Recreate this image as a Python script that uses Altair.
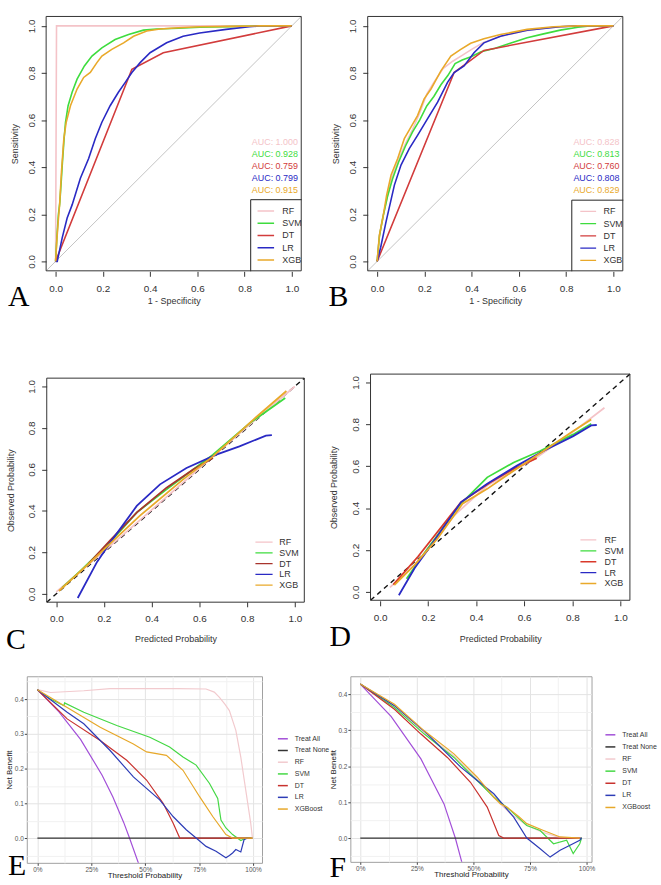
import altair as alt
import pandas as pd

SANS = "Liberation Sans"
SERIF = "Liberation Serif"

MODELS = ["RF", "SVM", "DT", "LR", "XGB"]
DCA_SERIES = ["Treat All", "Treat None", "RF", "SVM", "DT", "LR", "XGBoost"]

ROC_COLORS = ["#f4c3c8", "#3edc3e", "#d23c3c", "#2a2ac4", "#e9a92a"]
CAL_COLORS_C = ["#f4c3c8", "#3edc3e", "#a8342c", "#2a2ac4", "#e9a92a"]
CAL_COLORS_D = ["#f4c3c8", "#3edc3e", "#d9392a", "#2a2ac4", "#e9a92a"]
DCA_COLORS = ["#a24fd8", "#333333", "#f2cace", "#45d845", "#c8322e", "#2d3cb6", "#e7a82a"]

AUC_TRAIN = [1.000, 0.928, 0.759, 0.799, 0.915]
AUC_TEST = [0.828, 0.813, 0.760, 0.808, 0.829]

# ROC curves, training set (1 - specificity, sensitivity)
A_RF_X = [0.0, 0.004, 1.0]
A_RF_Y = [0.0, 1.0, 1.0]
A_SVM_X = [0.0, 0.006, 0.012, 0.018, 0.024, 0.029, 0.036, 0.042, 0.053, 0.070, 0.091, 0.122,
           0.154, 0.196, 0.252, 0.309, 0.372, 0.428, 0.520, 0.610, 0.740, 0.863, 1.0]
A_SVM_Y = [0.0, 0.11, 0.20, 0.25, 0.34, 0.42, 0.52, 0.59, 0.661, 0.718, 0.774, 0.830,
           0.872, 0.907, 0.942, 0.963, 0.982, 0.987, 0.990, 0.994, 0.997, 1.0, 1.0]
A_DT_X = [0.0, 0.323, 0.456, 1.0]
A_DT_Y = [0.0, 0.816, 0.886, 1.0]
A_LR_X = [0.0, 0.007, 0.028, 0.049, 0.070, 0.105, 0.140, 0.168, 0.196, 0.231, 0.266,
          0.295, 0.323, 0.358, 0.400, 0.470, 0.540, 0.610, 0.722, 0.820, 0.863, 1.0]
A_LR_Y = [0.0, 0.0, 0.10, 0.184, 0.24, 0.353, 0.437, 0.521, 0.591, 0.661, 0.718,
          0.760, 0.802, 0.844, 0.886, 0.928, 0.956, 0.970, 0.985, 0.996, 1.0, 1.0]
A_XGB_X = [0.0, 0.006, 0.012, 0.017, 0.025, 0.035, 0.045, 0.063, 0.091, 0.119, 0.147, 0.175,
           0.196, 0.238, 0.288, 0.330, 0.386, 0.442, 0.520, 0.610, 0.740, 0.863, 1.0]
A_XGB_Y = [0.0, 0.10, 0.18, 0.24, 0.381, 0.521, 0.591, 0.661, 0.732, 0.781, 0.802, 0.844,
           0.872, 0.900, 0.928, 0.956, 0.978, 0.987, 0.992, 0.996, 0.998, 1.0, 1.0]

# ROC curves, validation set
B_RF_X = [0.0, 0.008, 0.02, 0.04, 0.06, 0.09, 0.12, 0.15, 0.18, 0.21, 0.24, 0.28, 0.32,
          0.36, 0.40, 0.45, 0.52, 0.63, 0.75, 0.85, 1.0]
B_RF_Y = [0.0, 0.10, 0.17, 0.26, 0.35, 0.43, 0.50, 0.56, 0.63, 0.71, 0.76, 0.82, 0.85,
          0.875, 0.90, 0.93, 0.955, 0.98, 0.995, 1.0, 1.0]
B_SVM_X = [0.0, 0.01, 0.025, 0.045, 0.065, 0.09, 0.12, 0.15, 0.18, 0.21, 0.24, 0.27, 0.30,
           0.33, 0.36, 0.40, 0.44, 0.50, 0.56, 0.635, 0.70, 0.775, 0.85, 0.90, 1.0]
B_SVM_Y = [0.0, 0.11, 0.19, 0.28, 0.35, 0.42, 0.49, 0.55, 0.60, 0.66, 0.70, 0.75, 0.79,
           0.84, 0.855, 0.87, 0.89, 0.905, 0.925, 0.95, 0.965, 0.982, 0.994, 1.0, 1.0]
B_DT_X = [0.0, 0.326, 0.452, 1.0]
B_DT_Y = [0.0, 0.802, 0.896, 1.0]
B_LR_X = [0.0, 0.015, 0.038, 0.073, 0.101, 0.136, 0.171, 0.213, 0.256, 0.298, 0.326,
          0.368, 0.410, 0.452, 0.522, 0.635, 0.775, 0.85, 1.0]
B_LR_Y = [0.0, 0.06, 0.17, 0.324, 0.409, 0.479, 0.535, 0.605, 0.676, 0.760, 0.802,
          0.830, 0.886, 0.928, 0.956, 0.982, 0.996, 1.0, 1.0]
B_XGB_X = [0.0, 0.010, 0.024, 0.040, 0.059, 0.087, 0.115, 0.143, 0.171, 0.199, 0.228,
           0.270, 0.312, 0.354, 0.396, 0.452, 0.522, 0.635, 0.747, 0.850, 1.0]
B_XGB_Y = [0.0, 0.114, 0.184, 0.28, 0.367, 0.437, 0.521, 0.570, 0.619, 0.690, 0.732,
           0.809, 0.872, 0.900, 0.926, 0.945, 0.963, 0.985, 0.996, 1.0, 1.0]

# Calibration curves, training set (predicted, observed)
C_RF_X = [0.0, 0.2, 0.4, 0.6, 0.8, 1.0]
C_RF_Y = [0.01, 0.205, 0.405, 0.605, 0.805, 1.0]
C_SVM_X = [0.025, 0.10, 0.226, 0.338, 0.4625, 0.574, 0.657, 0.81, 0.96]
C_SVM_Y = [0.03, 0.11, 0.25, 0.393, 0.504, 0.60, 0.671, 0.822, 0.944]
C_DT_X = [0.136, 0.226, 0.338, 0.4625, 0.574, 0.657]
C_DT_Y = [0.146, 0.258, 0.393, 0.512, 0.60, 0.655]
C_LR_X = [0.09, 0.171, 0.233, 0.3375, 0.435, 0.546, 0.671, 0.768, 0.879, 0.904]
C_LR_Y = [-0.02, 0.154, 0.258, 0.424, 0.528, 0.607, 0.671, 0.711, 0.763, 0.765]
C_XGB_X = [0.011, 0.129, 0.226, 0.351, 0.532, 0.657, 0.824, 0.965]
C_XGB_Y = [0.014, 0.138, 0.242, 0.377, 0.552, 0.663, 0.838, 0.978]

# Calibration curves, validation set
D_RF_X = [0.041, 0.144, 0.309, 0.446, 0.652, 0.817, 0.934]
D_RF_Y = [0.022, 0.129, 0.366, 0.508, 0.642, 0.776, 0.879]
D_SVM_X = [0.11, 0.199, 0.33, 0.446, 0.556, 0.666, 0.804, 0.879]
D_SVM_Y = [0.063, 0.208, 0.413, 0.547, 0.618, 0.673, 0.752, 0.803]
D_DT_X = [0.055, 0.158, 0.337, 0.46, 0.556, 0.652]
D_DT_Y = [0.035, 0.169, 0.429, 0.524, 0.587, 0.639]
D_LR_X = [0.078, 0.144, 0.213, 0.337, 0.446, 0.57, 0.68, 0.804, 0.879, 0.902]
D_LR_Y = [-0.016, 0.114, 0.224, 0.429, 0.516, 0.603, 0.673, 0.744, 0.795, 0.797]
D_XGB_X = [0.059, 0.144, 0.24, 0.343, 0.446, 0.556, 0.68, 0.804, 0.879]
D_XGB_Y = [0.032, 0.129, 0.256, 0.421, 0.492, 0.579, 0.673, 0.768, 0.823]

# Decision curves, training set (threshold, net benefit)
E_ALL_X = [0.0, 0.1, 0.2, 0.3, 0.35, 0.4, 0.427, 0.47]
E_ALL_Y = [0.427, 0.363, 0.284, 0.181, 0.118, 0.045, 0.0, -0.075]
E_NONE_X = [0.0, 0.99]
E_NONE_Y = [0.0, 0.0]
E_RF_X = [0.0, 0.061, 0.215, 0.337, 0.5, 0.65, 0.782, 0.82, 0.844, 0.87, 0.89, 0.92,
          0.943, 0.966, 0.989, 0.997]
E_RF_Y = [0.427, 0.419, 0.424, 0.43, 0.43, 0.43, 0.429, 0.42, 0.405, 0.385, 0.367, 0.31,
          0.233, 0.138, 0.043, 0.0]
E_SVM_X = [0.0, 0.06, 0.123, 0.126, 0.215, 0.368, 0.521, 0.613, 0.675, 0.736, 0.798, 0.836,
           0.851, 0.874, 0.905, 0.943, 0.966, 0.997]
E_SVM_Y = [0.427, 0.40, 0.381, 0.389, 0.362, 0.324, 0.29, 0.262, 0.233, 0.21, 0.157, 0.114,
           0.052, 0.029, 0.01, -0.007, 0.0, 0.0]
E_DT_X = [0.0, 0.138, 0.291, 0.414, 0.506, 0.583, 0.629, 0.66, 0.997]
E_DT_Y = [0.427, 0.343, 0.281, 0.224, 0.167, 0.10, 0.043, 0.0, 0.0]
E_LR_X = [0.0, 0.138, 0.215, 0.337, 0.445, 0.567, 0.629, 0.69, 0.736, 0.782, 0.828, 0.874,
          0.89, 0.905, 0.92, 0.943, 0.958, 0.974]
E_LR_Y = [0.427, 0.362, 0.329, 0.252, 0.176, 0.11, 0.062, 0.024, 0.0, -0.024, -0.038, -0.057,
          -0.05, -0.043, -0.033, -0.04, -0.005, 0.0]
E_XGB_X = [0.0, 0.138, 0.291, 0.445, 0.506, 0.598, 0.675, 0.752, 0.813, 0.874, 0.905, 0.997]
E_XGB_Y = [0.427, 0.376, 0.319, 0.271, 0.248, 0.238, 0.195, 0.119, 0.062, 0.01, 0.0, 0.0]

# Decision curves, validation set
F_ALL_X = [0.0, 0.136, 0.268, 0.37, 0.42, 0.45]
F_ALL_Y = [0.428, 0.338, 0.22, 0.095, 0.0, -0.07]
F_NONE_X = [0.0, 0.98]
F_NONE_Y = [0.0, 0.0]
F_RF_X = [0.0, 0.151, 0.283, 0.414, 0.50, 0.59, 0.66, 0.736, 0.81, 0.88, 0.97]
F_RF_Y = [0.428, 0.368, 0.293, 0.228, 0.175, 0.112, 0.07, 0.035, 0.015, 0.002, 0.0]
F_SVM_X = [0.0, 0.151, 0.283, 0.414, 0.487, 0.59, 0.663, 0.736, 0.795, 0.854, 0.912, 0.941,
           0.97, 0.978]
F_SVM_Y = [0.428, 0.363, 0.289, 0.224, 0.178, 0.114, 0.077, 0.035, 0.021, -0.016, -0.006,
           -0.043, -0.016, 0.0]
F_DT_X = [0.0, 0.151, 0.268, 0.385, 0.487, 0.561, 0.612, 0.634, 0.97]
F_DT_Y = [0.428, 0.358, 0.289, 0.224, 0.155, 0.086, 0.007, 0.0, 0.0]
F_LR_X = [0.0, 0.151, 0.297, 0.444, 0.517, 0.59, 0.678, 0.736, 0.795, 0.839, 0.883, 0.927,
          0.97, 0.978]
F_LR_Y = [0.428, 0.368, 0.289, 0.197, 0.16, 0.123, 0.058, 0.0, -0.03, -0.053, -0.034, -0.02,
          -0.006, 0.0]
F_XGB_X = [0.0, 0.151, 0.283, 0.414, 0.517, 0.59, 0.619, 0.648, 0.70, 0.736, 0.81, 0.883, 0.97]
F_XGB_Y = [0.428, 0.372, 0.298, 0.234, 0.169, 0.114, 0.095, 0.086, 0.06, 0.04, 0.021, 0.003, 0.0]


def long_frame(names, xs_list, ys_list, key):
    rows = []
    for name, xs, ys in zip(names, xs_list, ys_list):
        for i, (x, y) in enumerate(zip(xs, ys)):
            rows.append({key: name, "x": x, "y": y, "i": i})
    return pd.DataFrame(rows)


ONE = pd.DataFrame({"k": [0]})
R_TICKS = [0.0, 0.2, 0.4, 0.6, 0.8, 1.0]


def r_panel(df, colors, width, height, xr, yr, yoff, xtitle, ytitle, ytitle_x, xtitle_y,
            letter, letter_x, letter_y, leg_top, leg_x0, leg_x1, leg_tx, box_x=None,
            auc=None, diag_color="#c4c4c4", diag_dash=None, diag_width=1.0, lw=1.6):
    xs = alt.Scale(domain=[0, 1], range=xr, nice=False, zero=False)
    ys = alt.Scale(domain=[0, 1], range=yr, nice=False, zero=False)
    color = alt.Color("model:N", scale=alt.Scale(domain=MODELS, range=colors), legend=None)
    common = dict(values=R_TICKS, format=".1f", domain=False, grid=False, tickSize=5,
                  tickColor="#333", tickWidth=1, labelFlush=False, labelOverlap=False,
                  labelFont=SANS, labelFontSize=10, labelColor="#333", titleFont=SANS,
                  titleFontSize=9, titleFontWeight="normal", titleColor="#333",
                  titleBaseline="middle")
    x_axis = alt.Axis(labelPadding=7, title=xtitle, titleY=xtitle_y, **common)
    y_axis = alt.Axis(offset=yoff, labelAngle=270, labelAlign="center", labelBaseline="bottom",
                      labelPadding=5, title=ytitle, titleX=ytitle_x, **common)

    def X(field=None, datum=None):
        if datum is not None:
            return alt.X(datum=datum, type="quantitative", scale=xs, axis=x_axis)
        return alt.X(field, type="quantitative", scale=xs, axis=x_axis)

    def Y(field=None, datum=None):
        if datum is not None:
            return alt.Y(datum=datum, type="quantitative", scale=ys, axis=y_axis)
        return alt.Y(field, type="quantitative", scale=ys, axis=y_axis)

    # reference diagonal sits underneath the model curves
    diag_kw = dict(color=diag_color, strokeWidth=diag_width)
    if diag_dash:
        diag_kw["strokeDash"] = diag_dash
    diag = alt.Chart(pd.DataFrame({"x": [-0.04, 1.04], "y": [-0.04, 1.04]})).mark_line(
        **diag_kw).encode(x=X("x"), y=Y("y"))

    curves = alt.Chart(df).mark_line(strokeWidth=lw, clip=True).encode(
        x=X("x"), y=Y("y"), color=color, order="i:Q")

    layers = [diag, curves]

    leg = pd.DataFrame({"model": MODELS,
                        "ly": [leg_top - 0.052 * k for k in range(len(MODELS))]})
    if box_x is not None:
        layers.append(alt.Chart(ONE).mark_rect(fill="white", stroke="#222", strokeWidth=1,
                                               clip=True).encode(
            x=X(datum=box_x), x2=alt.datum(1.2), y=Y(datum=-0.2), y2=alt.datum(leg_top + 0.048)))
    layers.append(alt.Chart(leg).mark_rule(strokeWidth=1.3, clip=True).encode(
        x=X(datum=leg_x0), x2=alt.datum(leg_x1), y=Y("ly"), color=color))
    layers.append(alt.Chart(leg).mark_text(align="left", baseline="middle", font=SANS, fontSize=9,
                                           color="#333", clip=True).encode(
        x=X(datum=leg_tx), y=Y("ly"), text="model:N"))

    if auc is not None:
        auc_df = pd.DataFrame({"model": MODELS, "auc": auc,
                               "ay": [0.507 - 0.0505 * k for k in range(len(MODELS))]})
        layers.append(alt.Chart(auc_df).transform_calculate(
            label="'AUC: ' + format(datum.auc, '.3f')").mark_text(
            align="right", baseline="middle", font=SANS, fontSize=9).encode(
            x=X(datum=1.026), y=Y("ay"), text="label:N", color=color))

    layers.append(alt.Chart(ONE).mark_rect(fillOpacity=0, stroke="#333", strokeWidth=1).encode(
        x=X(datum=-0.04), x2=alt.datum(1.04), y=Y(datum=-0.04), y2=alt.datum(1.04)))
    layers.append(alt.Chart(pd.DataFrame({"t": [letter]})).mark_text(
        font=SERIF, fontSize=30, align="left", baseline="alphabetic", color="black").encode(
        text="t:N", x=alt.value(letter_x), y=alt.value(letter_y)))

    return alt.layer(*layers).properties(
        width=width, height=height, view=alt.ViewBackground(stroke="transparent"))


MAJOR_X = "abs(datum.value * 4 - round(datum.value * 4)) < 0.001"
MAJOR_Y = "abs(datum.value * 10 - round(datum.value * 10)) < 0.001"


def dca_panel(df, width, height, xdom, ydom, yvals, letter, letter_x, letter_y,
              leg_x, leg_y, row_pad):
    grid_kw = dict(grid=True, domain=False, tickSize=2.5, tickColor="#444", tickWidth=1,
                   labelFont=SANS, labelFontSize=6.5, labelColor="#555", labelPadding=1,
                   labelFlush=False, labelOverlap=False, titleFont=SANS, titleFontSize=8,
                   titleFontWeight="normal", titleColor="#222", titleBaseline="middle")
    x_axis = alt.Axis(
        values=[k * 0.125 for k in range(9)],
        labelExpr=f"{MAJOR_X} ? format(datum.value, '.0%') : ''",
        gridColor={"condition": {"test": MAJOR_X, "value": "#e3e3e3"}, "value": "#f1f1f1"},
        tickOpacity={"condition": {"test": MAJOR_X, "value": 1}, "value": 0},
        title="Threshold Probability", titleY=13, **grid_kw)
    y_axis = alt.Axis(
        values=yvals,
        labelExpr=f"{MAJOR_Y} ? format(datum.value, '.1f') : ''",
        gridColor={"condition": {"test": MAJOR_Y, "value": "#e3e3e3"}, "value": "#f1f1f1"},
        tickOpacity={"condition": {"test": MAJOR_Y, "value": 1}, "value": 0},
        title="Net Benefit", titleX=-17, **grid_kw)

    lines = alt.Chart(df).mark_line(strokeWidth=1.2, clip=True).encode(
        x=alt.X("x:Q", scale=alt.Scale(domain=xdom, nice=False, zero=False), axis=x_axis),
        y=alt.Y("y:Q", scale=alt.Scale(domain=ydom, nice=False, zero=False), axis=y_axis),
        color=alt.Color("series:N", scale=alt.Scale(domain=DCA_SERIES, range=DCA_COLORS),
                        legend=alt.Legend(orient="none", legendX=leg_x, legendY=leg_y, title=None,
                                          symbolType="stroke", symbolSize=100,
                                          symbolStrokeWidth=1.5, labelFont=SANS, labelFontSize=7,
                                          labelColor="#333", rowPadding=row_pad, labelOffset=6,
                                          padding=0)),
        order="i:Q",
    )
    tag = alt.Chart(pd.DataFrame({"t": [letter]})).mark_text(
        font=SERIF, fontSize=30, align="left", baseline="alphabetic", color="black").encode(
        text="t:N", x=alt.value(letter_x), y=alt.value(letter_y))
    return alt.layer(lines, tag).properties(
        width=width, height=height, view=alt.ViewBackground(stroke="#a0a0a0", strokeWidth=1))


roc_a = long_frame(MODELS, [A_RF_X, A_SVM_X, A_DT_X, A_LR_X, A_XGB_X],
                   [A_RF_Y, A_SVM_Y, A_DT_Y, A_LR_Y, A_XGB_Y], "model")
roc_b = long_frame(MODELS, [B_RF_X, B_SVM_X, B_DT_X, B_LR_X, B_XGB_X],
                   [B_RF_Y, B_SVM_Y, B_DT_Y, B_LR_Y, B_XGB_Y], "model")
cal_c = long_frame(MODELS, [C_RF_X, C_SVM_X, C_DT_X, C_LR_X, C_XGB_X],
                   [C_RF_Y, C_SVM_Y, C_DT_Y, C_LR_Y, C_XGB_Y], "model")
cal_d = long_frame(MODELS, [D_RF_X, D_SVM_X, D_DT_X, D_LR_X, D_XGB_X],
                   [D_RF_Y, D_SVM_Y, D_DT_Y, D_LR_Y, D_XGB_Y], "model")
dca_e = long_frame(DCA_SERIES, [E_ALL_X, E_NONE_X, E_RF_X, E_SVM_X, E_DT_X, E_LR_X, E_XGB_X],
                   [E_ALL_Y, E_NONE_Y, E_RF_Y, E_SVM_Y, E_DT_Y, E_LR_Y, E_XGB_Y], "series")
dca_f = long_frame(DCA_SERIES, [F_ALL_X, F_NONE_X, F_RF_X, F_SVM_X, F_DT_X, F_LR_X, F_XGB_X],
                   [F_ALL_Y, F_NONE_Y, F_RF_Y, F_SVM_Y, F_DT_Y, F_LR_Y, F_XGB_Y], "series")

panel_a = r_panel(roc_a, ROC_COLORS, 277, 257, [29, 267], [247, 9.7], -19.5,
                  "1 - Specificity", "Sensitivity", -32, 29, "A", -19, 292,
                  leg_top=0.214, leg_x0=0.855, leg_x1=0.925, leg_tx=0.96, box_x=0.826,
                  auc=AUC_TRAIN)
panel_b = r_panel(roc_b, ROC_COLORS, 275, 257, [27, 265], [247, 9.7], -17.5,
                  "1 - Specificity", "Sensitivity", -32, 29, "B", -22, 292,
                  leg_top=0.212, leg_x0=0.86, leg_x1=0.927, leg_tx=0.958, box_x=0.824,
                  auc=AUC_TEST)
panel_c = r_panel(cal_c, CAL_COLORS_C, 279, 258, [29.7, 270], [250, 41], -20,
                  "Predicted Probability", "Observed Probability", -36, 37, "C", -21, 306,
                  leg_top=0.25, leg_x0=0.835, leg_x1=0.907, leg_tx=0.935,
                  diag_color="#111", diag_dash=[5, 4], diag_width=1.4, lw=1.8)
panel_d = r_panel(cal_d, CAL_COLORS_D, 282, 257, [30, 272], [248, 37], -20.3,
                  "Predicted Probability", "Observed Probability", -37, 38, "D", -21, 303,
                  leg_top=0.248, leg_x0=0.834, leg_x1=0.90, leg_tx=0.934,
                  diag_color="#111", diag_dash=[5, 4], diag_width=1.4, lw=1.8)
panel_e = dca_panel(dca_e, 237, 188, [-0.0492, 1.0414], [-0.0714, 0.4657],
                    [k * 0.05 for k in range(-1, 10)], "E", -19, 200, 252, 57, 2.8)
panel_f = dca_panel(dca_f, 243, 187, [-0.0439, 1.022], [-0.0662, 0.4497],
                    [k * 0.05 for k in range(-1, 9)], "F", -21, 202, 256, 53, 3.2)

chart = alt.concat(
    panel_a, panel_b, panel_c, panel_d, panel_e, panel_f,
    columns=2, spacing={"row": 75, "column": 47}, bounds="flush", align="each",
).resolve_scale(color="independent").properties(
    padding={"left": 5, "top": 10, "right": 3, "bottom": 5}, background="white",
).configure(font=SANS)

chart.save("out.html", embed_options={"renderer": "svg", "actions": False})
